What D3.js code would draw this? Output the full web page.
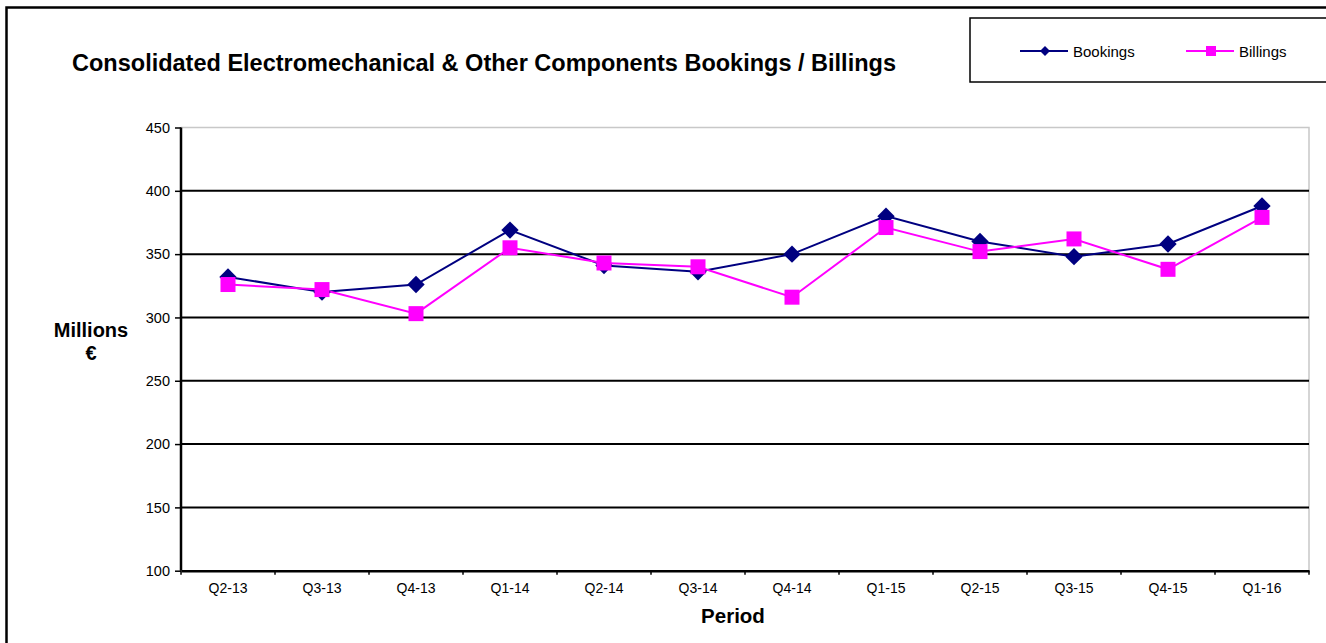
<!DOCTYPE html>
<html><head><meta charset="utf-8">
<script src="https://cdn.jsdelivr.net/npm/d3@7/dist/d3.min.js"></script>
<style>
html,body{margin:0;padding:0;background:#fff;}
svg{display:block;font-family:"Liberation Sans",Arial,sans-serif;}
</style></head>
<body><svg id="c" width="1326" height="643"></svg>
<script>
const categories = ["Q2-13","Q3-13","Q4-13","Q1-14","Q2-14","Q3-14","Q4-14","Q1-15","Q2-15","Q3-15","Q4-15","Q1-16"];
const bookings = [332, 320, 326, 369, 341, 336, 350, 380, 360, 348, 358, 388];
const billings = [326, 322, 303, 355, 343, 340, 316, 371, 352, 362, 338, 379];
const yTicks = [100,150,200,250,300,350,400,450];
const seriesNames = ["Bookings","Billings"];

const svg = d3.select("#c");
const W = 1326, H = 643;
const m = {left:181, right:1309, top:127.5, bottom:570.7};

// outer frame
svg.append("rect").attr("x",6.5).attr("y",7.5).attr("width",W+10).attr("height",H+10)
  .attr("fill","none").attr("stroke","#000").attr("stroke-width",2.5);

const x = d3.scaleBand().domain(categories).range([m.left,m.right]);
const y = d3.scaleLinear().domain([100,450]).range([m.bottom,m.top]);

// plot area border (light gray top/right)
svg.append("path").attr("d",`M${m.left},${m.top}H${m.right}V${m.bottom}`)
  .attr("fill","none").attr("stroke","#c8c8c8").attr("stroke-width",1.5);

// gridlines
svg.append("g").selectAll("line").data(yTicks.filter(d=>d>100 && d<450)).join("line")
  .attr("x1",m.left).attr("x2",m.right).attr("y1",d=>y(d)).attr("y2",d=>y(d))
  .attr("stroke","#000").attr("stroke-width",2);

// y axis
const ya = svg.append("g").attr("transform",`translate(${m.left},0)`)
  .call(d3.axisLeft(y).tickValues(yTicks).tickSize(6).tickPadding(5).tickFormat(d3.format("d")));
ya.select(".domain").attr("stroke","#000").attr("stroke-width",2.5).attr("d",`M0,${m.top}V${m.bottom}`);
ya.selectAll(".tick line").attr("stroke","#000").attr("stroke-width",1.5);
ya.selectAll(".tick text").attr("font-size","14.5px").attr("fill","#000").attr("font-family","Liberation Sans, Arial, sans-serif");

// x axis
const xa = svg.append("g").attr("transform",`translate(0,${m.bottom})`)
  .call(d3.axisBottom(x).tickSize(0).tickPadding(12));
xa.select(".domain").attr("stroke","#000").attr("stroke-width",2.5);
xa.selectAll(".tick text").attr("font-size","14px").attr("fill","#000").attr("font-family","Liberation Sans, Arial, sans-serif");
// ticks between categories
const bounds = categories.map((c)=>x(c)).concat([m.right]);
xa.append("g").selectAll("line").data(bounds).join("line")
  .attr("x1",d=>d).attr("x2",d=>d).attr("y1",0).attr("y2",4)
  .attr("stroke","#000").attr("stroke-width",1.5);

const cx = c => x(c) + x.bandwidth()/2;
const line = d3.line().x((d,i)=>cx(categories[i])).y(d=>y(d));

const colors = ["#000080","#FF00FF"];
const data = [bookings, billings];
data.forEach((vals,si)=>{
  svg.append("path").datum(vals).attr("d",line).attr("fill","none")
    .attr("stroke",colors[si]).attr("stroke-width",2);
});
// markers
svg.append("g").selectAll("path").data(bookings).join("path")
  .attr("transform",(d,i)=>`translate(${cx(categories[i])},${y(d)}) rotate(45)`)
  .attr("d", d3.symbol().type(d3.symbolSquare).size(150)).attr("fill",colors[0]);
svg.append("g").selectAll("rect").data(billings).join("rect")
  .attr("x",(d,i)=>cx(categories[i])-7.5).attr("y",d=>y(d)-7.5)
  .attr("width",15).attr("height",15).attr("fill",colors[1]);

// title
svg.append("text").attr("x",484).attr("y",71).attr("text-anchor","middle")
  .attr("font-size","23.5px").attr("font-weight","bold").attr("fill","#000")
  .text("Consolidated Electromechanical & Other Components Bookings / Billings");

// y title
const yt = svg.append("text").attr("text-anchor","middle").attr("font-size","20px").attr("font-weight","bold").attr("fill","#000");
yt.append("tspan").attr("x",91).attr("y",337).text("Millions");
yt.append("tspan").attr("x",91).attr("y",360).text("€");

// x title
svg.append("text").attr("x",733).attr("y",623).attr("text-anchor","middle")
  .attr("font-size","20.5px").attr("font-weight","bold").attr("fill","#000").text("Period");

// legend
svg.append("rect").attr("x",970).attr("y",18).attr("width",400).attr("height",64)
  .attr("fill","#fff").attr("stroke","#000").attr("stroke-width",1.5);
const legX = [1020, 1186];
seriesNames.forEach((n,i)=>{
  const g = svg.append("g").attr("transform",`translate(${legX[i]},51)`);
  g.append("line").attr("x1",0).attr("x2",48).attr("stroke",colors[i]).attr("stroke-width",2);
  if(i===0){
    g.append("path").attr("transform","translate(25,0) rotate(45)").attr("d",d3.symbol().type(d3.symbolSquare).size(50)).attr("fill",colors[0]);
  } else {
    g.append("rect").attr("x",20).attr("y",-5).attr("width",10).attr("height",10).attr("fill",colors[1]);
  }
  g.append("text").attr("x",53).attr("y",5.5).attr("font-size","15px").attr("fill","#000").text(n);
});
</script></body></html>
